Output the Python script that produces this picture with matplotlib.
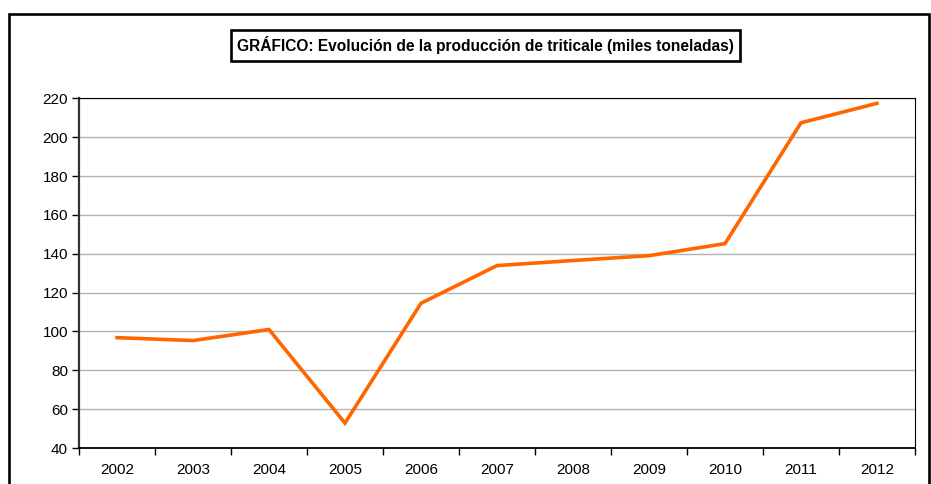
import matplotlib
matplotlib.use("Agg")
import matplotlib.pyplot as plt
from matplotlib.patches import Rectangle

years = ["2002", "2003", "2004", "2005", "2006", "2007", "2008", "2009", "2010", "2011", "2012"]
production = [96.8, 95.3, 101.0, 52.8, 114.5, 133.9, 136.5, 139.0, 145.2, 207.4, 217.4]
y_ticks = [40, 60, 80, 100, 120, 140, 160, 180, 200, 220]
title = "GRÁFICO: Evolución de la producción de triticale (miles toneladas)"

plt.rcParams['font.family'] = ['Liberation Sans', 'DejaVu Sans']

W, H = 931, 484
fig = plt.figure(figsize=(W / 100, H / 100), dpi=100)

# outer frame
fig.patches.append(Rectangle((9 / W, -0.1), (929 - 9) / W, 1.1 - 14 / H,
                             transform=fig.transFigure, fill=False,
                             edgecolor='black', linewidth=1.9, zorder=0))

ax = fig.add_axes([79 / W, 1 - 448 / H, (915 - 79) / W, (448 - 98.3) / H])
x = list(range(len(years)))
ax.plot(x, production, color='#FF6600', linewidth=2.6, solid_joinstyle='miter', zorder=3)

ax.set_xlim(-0.5, len(years) - 0.5)
ax.set_ylim(40, 220)
ax.set_yticks(y_ticks)
ax.set_yticklabels([str(v) for v in y_ticks])
ax.yaxis.grid(True, color='#b3b3b3', linewidth=1.0)
ax.set_axisbelow(True)

ax.set_xticks([i - 0.5 for i in range(len(years) + 1)])
ax.set_xticklabels([])
ax.set_xticks(x, minor=True)
ax.set_xticklabels(years, minor=True)
ax.tick_params(axis='x', which='major', length=5, width=1, color='black', direction='out')
ax.tick_params(axis='x', which='minor', length=0, pad=11, labelsize=11)
ax.tick_params(axis='y', length=5, width=1, color='black', direction='out', labelsize=11, pad=3)

ax.spines['left'].set_color('#333333')
ax.spines['left'].set_linewidth(1.6)
ax.spines['bottom'].set_color('black')
ax.spines['bottom'].set_linewidth(1.3)
ax.spines['top'].set_linewidth(0.8)
ax.spines['right'].set_linewidth(0.8)

fig.text((229 + 742) / 2 / W, 1 - 45.5 / H, title, ha='center', va='center',
         fontsize=11.2, fontweight='bold',
         bbox=dict(boxstyle='square,pad=0.42', facecolor='white', edgecolor='black', linewidth=1.9))

fig.savefig("out.png", dpi=100)
